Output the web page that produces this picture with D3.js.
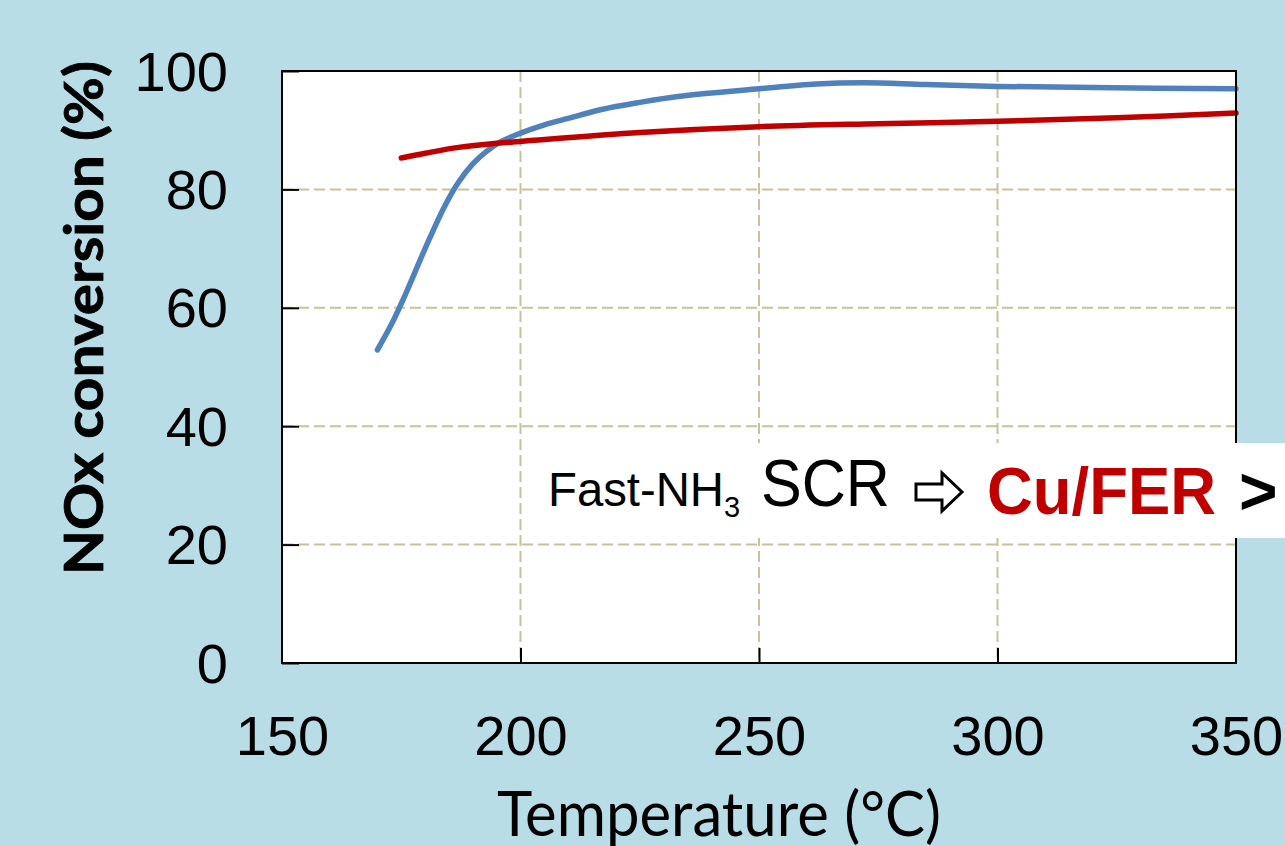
<!DOCTYPE html>
<html>
<head>
<meta charset="utf-8">
<script src="https://cdn.jsdelivr.net/npm/d3@7"></script>
<style>
html,body{margin:0;padding:0;overflow:hidden;background:#b8dde7;}
svg{display:block;}
</style>
</head>
<body>
<svg id="chart" width="1285" height="846"></svg>
<script>
// ---- data ----
const xTicks = [150, 200, 250, 300, 350];
const yTicks = [0, 20, 40, 60, 80, 100];
const blueTemp = [170, 173, 176, 180, 184, 187, 190, 193, 196, 200, 205, 210, 217, 225, 233, 250, 262, 272, 285, 300, 320, 350];
const blueConv = [52.9, 57.3, 62.5, 70.0, 77.0, 81.2, 84.3, 86.5, 88.1, 89.5, 90.9, 92.0, 93.5, 94.7, 95.7, 97.0, 97.8, 98.0, 97.7, 97.4, 97.2, 97.0];
const redTemp = [175, 180, 187, 195, 200, 225, 250, 275, 300, 325, 350];
const redConv = [85.3, 86.1, 87.1, 87.8, 88.1, 89.6, 90.6, 91.1, 91.5, 92.1, 92.9];
const xTitle = "Temperature (°C)";
const yTitle = "NOx conversion (%)";

(function(){
const svg = d3.select("#chart");
const pL = 282, pR = 1236, pT = 71, pB = 663;
const x = d3.scaleLinear().domain([150, 350]).range([pL, pR]);
const y = d3.scaleLinear().domain([0, 100]).range([pB, pT]);

// plot background
svg.append("rect").attr("x", pL).attr("y", pT).attr("width", pR-pL).attr("height", pB-pT).attr("fill", "#fff");

// gridlines
const grid = svg.append("g").attr("stroke", "#c9c09c").attr("stroke-width", 2).attr("stroke-dasharray", "11,5");
grid.selectAll("line.h").data(yTicks.filter(d => d > 0 && d < 100)).join("line").attr("class","h")
  .attr("x1", pL).attr("x2", pR).attr("y1", d => y(d)).attr("y2", d => y(d));
grid.selectAll("line.v").data(xTicks.filter(d => d > 150 && d < 350)).join("line").attr("class","v")
  .attr("y1", pT).attr("y2", pB).attr("x1", d => x(d)).attr("x2", d => x(d));

// lines
const line = d3.line().curve(d3.curveCatmullRom.alpha(0.5));
svg.append("path").attr("d", line(blueTemp.map((t,i)=>[x(t), y(blueConv[i])])))
  .attr("fill","none").attr("stroke","#4f81bd").attr("stroke-width",5.5).attr("stroke-linecap","round");
svg.append("path").attr("d", line(redTemp.map((t,i)=>[x(t), y(redConv[i])])))
  .attr("fill","none").attr("stroke","#c00000").attr("stroke-width",5.5).attr("stroke-linecap","round");

// frame
svg.append("rect").attr("x", pL).attr("y", pT).attr("width", pR-pL).attr("height", pB-pT)
  .attr("fill","none").attr("stroke","#000").attr("stroke-width",2);

// axes
const yAxis = d3.axisLeft(y).tickValues(yTicks).tickSize(-17).tickPadding(54);
const gy = svg.append("g").attr("transform", `translate(${pL},0)`).call(yAxis);
gy.select(".domain").remove();
gy.selectAll(".tick line").attr("stroke","#000").attr("stroke-width",2);
gy.selectAll(".tick text").attr("font-family","'Liberation Sans', Arial, sans-serif").attr("font-size",56)
  .attr("fill","#000").attr("dy","0.34em");

const xAxis = d3.axisBottom(x).tickValues(xTicks).tickSize(-15).tickPadding(90);
const gx = svg.append("g").attr("transform", `translate(0,${pB})`).call(xAxis);
gx.select(".domain").remove();
gx.selectAll(".tick line").attr("stroke","#000").attr("stroke-width",2)
  .attr("display", d => (d===150||d===350) ? "none" : null);
gx.selectAll(".tick text").attr("font-family","'Liberation Sans', Arial, sans-serif").attr("font-size",56)
  .attr("fill","#000").attr("dy",0).attr("y",92);

// axis titles
svg.append("text").attr("x", 719).attr("y", 836).attr("text-anchor","middle")
  .attr("font-family","Lato, 'Open Sans', sans-serif").attr("font-size",62)
  .attr("textLength",444).attr("lengthAdjust","spacingAndGlyphs").attr("fill","#000").text(xTitle);
svg.append("text").attr("transform","translate(103,318) rotate(-90)").attr("text-anchor","middle")
  .attr("font-family","Lato, 'Open Sans', sans-serif").attr("font-weight","bold").attr("font-size",53)
  .attr("textLength",514).attr("lengthAdjust","spacingAndGlyphs").attr("fill","#000")
  .attr("stroke","#000").attr("stroke-width",0.8).text(yTitle);

// annotation box
svg.append("rect").attr("x",524).attr("y",443).attr("width",1285-524).attr("height",95).attr("fill","#fff");
const ann = svg.append("text").attr("y",506).attr("font-family","'Liberation Sans', Arial, sans-serif").attr("fill","#000");
ann.append("tspan").attr("x",548).attr("font-size",48).attr("textLength",176).attr("lengthAdjust","spacingAndGlyphs").text("Fast-NH");
ann.append("tspan").attr("font-size",29).attr("dy",11).text("3");
svg.append("text").attr("x",761).attr("y",506).attr("font-family","'Liberation Sans', Arial, sans-serif")
  .attr("font-size",66).attr("textLength",129).attr("lengthAdjust","spacingAndGlyphs").attr("fill","#000").text("SCR");
// outline arrow
const ax0 = 916, ay = 492;
svg.append("path").attr("d",
  `M${ax0},${ay-8} L${ax0+26},${ay-8} L${ax0+26},${ay-19} L${ax0+46},${ay} L${ax0+26},${ay+19} L${ax0+26},${ay+8} L${ax0},${ay+8} Z`)
  .attr("fill","#fff").attr("stroke","#000").attr("stroke-width",3).attr("stroke-linejoin","miter");
svg.append("text").attr("x",987).attr("y",514).attr("font-family","'Liberation Sans', Arial, sans-serif")
  .attr("font-weight","bold").attr("font-size",66).attr("textLength",229).attr("lengthAdjust","spacingAndGlyphs")
  .attr("fill","#c00000").text("Cu/FER");
svg.append("text").attr("x",1239).attr("y",514).attr("font-family","'Liberation Sans', Arial, sans-serif")
  .attr("font-weight","bold").attr("font-size",66).attr("fill","#000").text(">");
})();
</script>
</body>
</html>
